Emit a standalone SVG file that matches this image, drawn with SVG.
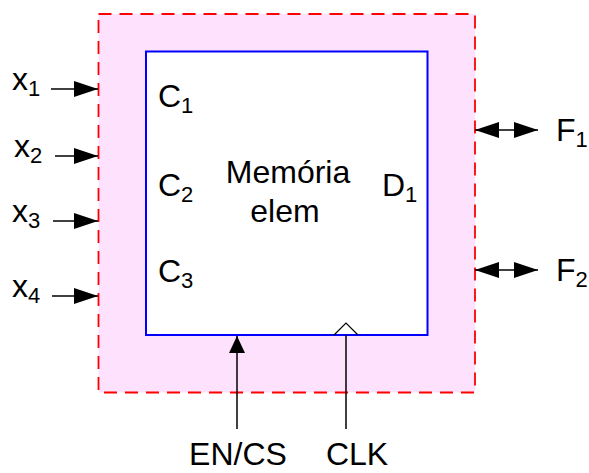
<svg xmlns="http://www.w3.org/2000/svg" width="589" height="473" viewBox="0 0 589 473">
<defs>
<style>
text{font-family:"Liberation Sans",Arial,sans-serif;font-size:32px;fill:#000}
.sub{font-size:22px}
.c{stroke:#000;stroke-width:1.5;fill:none}
</style>
<marker id="ah" viewBox="0 0 24 16" refX="24" refY="8" markerWidth="24" markerHeight="16" markerUnits="userSpaceOnUse" orient="auto-start-reverse">
<path d="M0,0 L24,8 L0,16 Z" fill="#000"/>
</marker>
<marker id="ahv" viewBox="0 0 17 16" refX="17" refY="8" markerWidth="17" markerHeight="16" markerUnits="userSpaceOnUse" orient="auto">
<path d="M0,0 L17,8 L0,16 Z" fill="#000"/>
</marker>
</defs>
<rect width="589" height="473" fill="#fff"/>
<g id="outer">
<rect x="98.5" y="14" width="376.5" height="378.5" fill="#fde1fd" stroke="#ff0000" stroke-width="1.8" stroke-dasharray="13,8"/>
</g>
<g id="memoria">
<rect x="146" y="51.5" width="281.5" height="283.5" fill="#fff" stroke="#0000ff" stroke-width="2"/>
<text x="288" y="183" text-anchor="middle">Memória</text>
<text x="285" y="222" text-anchor="middle">elem</text>
<text x="158" y="107">C<tspan class="sub" dy="6">1</tspan></text>
<text x="158" y="196">C<tspan class="sub" dy="6">2</tspan></text>
<text x="158" y="282">C<tspan class="sub" dy="6">3</tspan></text>
<text x="382" y="196">D<tspan class="sub" dy="6">1</tspan></text>
<polyline points="334,335 346,323 358,335" fill="none" stroke="#000" stroke-width="1.2"/>
</g>
<g id="labels">
<text x="12" y="90">x<tspan class="sub" dy="6">1</tspan></text>
<text x="14" y="157">x<tspan class="sub" dy="6">2</tspan></text>
<text x="12" y="222">x<tspan class="sub" dy="6">3</tspan></text>
<text x="12" y="297">x<tspan class="sub" dy="6">4</tspan></text>
<text x="556" y="141">F<tspan class="sub" dy="6">1</tspan></text>
<text x="556" y="281">F<tspan class="sub" dy="6">2</tspan></text>
<text x="238" y="465" text-anchor="middle">EN/CS</text>
<text x="357" y="465" text-anchor="middle">CLK</text>
</g>
<g id="connectors">
<line class="c" x1="51" y1="89" x2="98" y2="89" marker-end="url(#ah)"/>
<line class="c" x1="55" y1="156" x2="98" y2="156" marker-end="url(#ah)"/>
<line class="c" x1="53" y1="221" x2="98" y2="221" marker-end="url(#ah)"/>
<line class="c" x1="52" y1="296" x2="98" y2="296" marker-end="url(#ah)"/>
<line class="c" x1="475" y1="130" x2="538" y2="130" marker-start="url(#ah)" marker-end="url(#ah)"/>
<line class="c" x1="475" y1="270" x2="538" y2="270" marker-start="url(#ah)" marker-end="url(#ah)"/>
<line class="c" x1="237" y1="429" x2="237" y2="336" marker-end="url(#ahv)"/>
<line class="c" x1="346" y1="429" x2="346" y2="335"/>
</g>
</svg>
